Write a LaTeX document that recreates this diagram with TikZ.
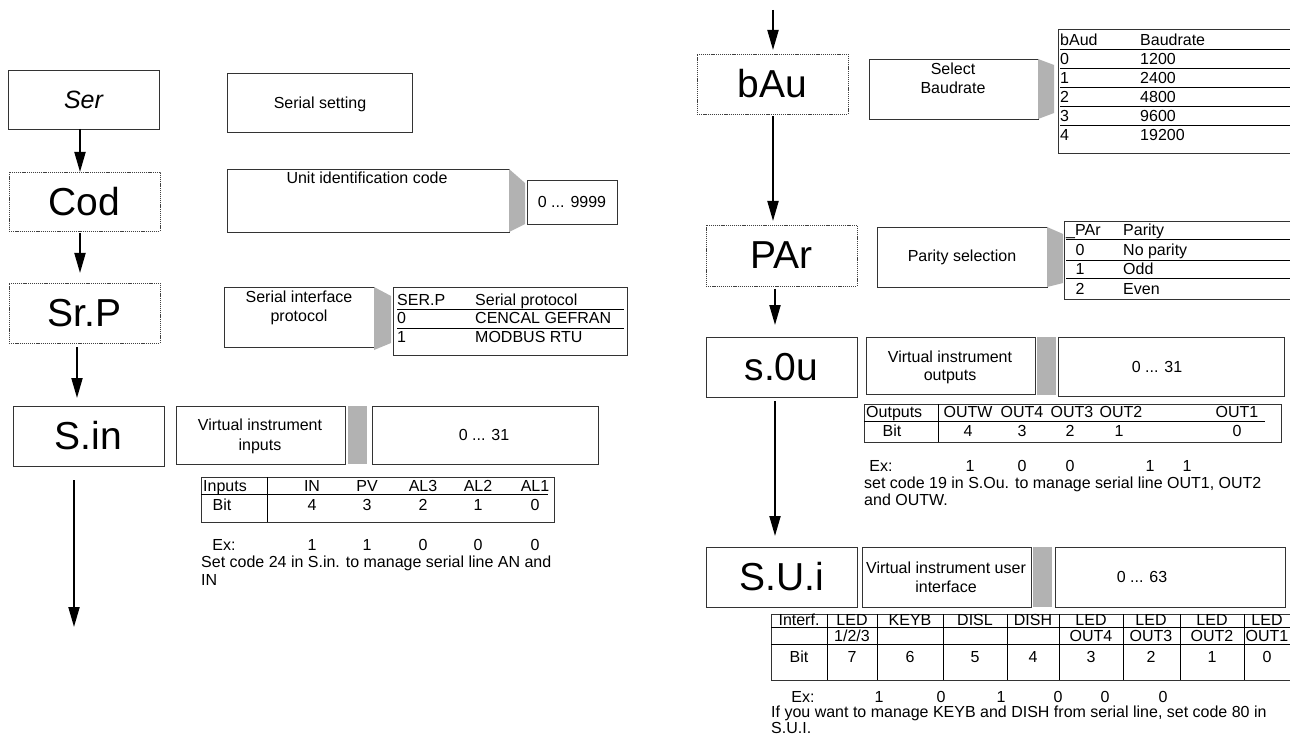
\documentclass[tikz,border=0pt]{standalone}
\usepackage{fontspec}
\setmainfont{Liberation Sans}
\usetikzlibrary{arrows.meta}
\newcounter{tn}
\tikzset{
  bx/.style={draw=black!80, line width=0.9pt, inner sep=0pt, outer sep=0pt},
  dbx/.style={draw=black!75, line width=0.8pt, dash pattern=on 1.2pt off 0.9pt, inner sep=0pt, outer sep=0pt},
  gr/.style={fill=black!30, draw=none, inner sep=0pt, outer sep=0pt},
  tbl/.style={draw=black!80, line width=0.8pt, inner sep=0pt, outer sep=0pt},
  rl/.style={draw=black, line width=0.8pt},
  arr/.style={line width=2pt, -{Triangle[length=20pt,width=11pt]}},
  t/.style={font=\fontsize{16}{19}\selectfont, inner sep=0pt, text height=12pt, text depth=1pt},
  tl/.style={t, anchor=west},
  bigf/.style={font=\fontsize{39}{40}\selectfont},
  serf/.style={font=\fontsize{25}{30}\selectfont\itshape},
}
\newcommand\BX[7]{\node[#1, minimum width={(#5-#3)*1pt}, minimum height={(#6-#4)*1pt}] (#2) at ({(#3+#5)/2},{(#4+#6)/2}) {#7};}
\newcommand\T[3]{\stepcounter{tn}\node[t] (t\thetn) at (#1,#2) {#3};}
\newcommand\TL[3]{\stepcounter{tn}\node[tl] (t\thetn) at (#1,#2) {#3};}
\begin{document}
\begin{tikzpicture}[x=1pt,y=-1pt]
\useasboundingbox (0,0) rectangle (1290,735);
\clip (0,0) rectangle (1290,735);
\fill[white] (0,0) rectangle (1290,735);

% ---------------- left column ----------------
\BX{bx,serf}{ser}{8}{70}{159}{129}{Ser}
\BX{dbx,bigf}{cod}{9}{172}{160}{231}{Cod}
\BX{dbx,bigf}{srp}{9}{283}{160}{343}{Sr.P}
\BX{bx,bigf}{sin}{13}{406}{164}{466}{S.in}

\coordinate (xa) at (80,0);
\coordinate (xb) at (77,0);
\coordinate (xc) at (74,0);
\coordinate (endL) at (74,627);
\draw[arr] (ser.south -| xa) -- (cod.north -| xa);
\draw[arr, shorten <=2pt, shorten >=10pt] (cod.south -| xa) -- (srp.north -| xa);
\draw[arr, shorten <=4pt, shorten >=8pt] (srp.south -| xb) -- (sin.north -| xb);
\draw[arr, shorten <=14pt] (sin.south -| xc) -- (endL);

% Serial setting
\BX{bx}{serset}{227}{73}{412}{132}{}
\T{320}{103}{Serial setting}

% Unit identification code
\BX{bx}{unitid}{227}{169}{509}{232}{}
\T{367}{178}{Unit identification code}
\fill[black!30] (509,169) -- (525,183) -- (525,224) -- (509,232) -- cycle;
\BX{bx}{unitval}{527}{180}{617}{224}{}
\T{572}{202}{0 ... 9999}

% Serial interface protocol
\BX{bx}{sip}{224}{287}{374}{347}{}
\T{299}{297}{Serial interface}
\T{299}{316}{protocol}
\fill[black!30] (374,287) -- (391,296) -- (391,343) -- (374,350) -- cycle;
\BX{tbl}{sertab}{393}{287}{627}{355}{}
\draw[rl] (397,309) -- (624,309);
\draw[rl] (397,328) -- (624,328);
\TL{397}{300}{SER.P}\TL{475}{300}{Serial protocol}
\TL{397}{318}{0}\TL{475}{318}{CENCAL GEFRAN}
\TL{397}{337}{1}\TL{475}{337}{MODBUS RTU}

% Virtual instrument inputs
\BX{bx}{vii}{176}{406}{345}{464}{}
\T{260}{425}{Virtual instrument}
\T{260}{445}{inputs}
\BX{gr}{viig}{348}{406}{367}{464}{}
\BX{bx}{viival}{372}{406}{598}{464}{}
\T{484}{435}{0 ... 31}

\BX{tbl}{intab}{201}{477}{554}{522}{}
\draw[rl] (267,477) -- (267,522);
\draw[rl] (201,494) -- (548,494);
\TL{203}{486}{Inputs}
\T{312}{486}{IN}\T{367}{486}{PV}\T{423}{486}{AL3}\T{478}{486}{AL2}\T{535}{486}{AL1}
\T{222}{505}{Bit}
\T{312}{505}{4}\T{367}{505}{3}\T{423}{505}{2}\T{478}{505}{1}\T{535}{505}{0}
\T{224}{545}{Ex:}
\T{312}{545}{1}\T{367}{545}{1}\T{423}{545}{0}\T{478}{545}{0}\T{535}{545}{0}
\TL{201}{562}{Set code 24 in S.in. to manage serial line AN and}
\TL{201}{580}{IN}

% ---------------- right column ----------------
\BX{dbx,bigf}{bau}{697}{54}{848}{114}{bAu}
\BX{dbx,bigf}{par}{706}{225}{857}{286}{PAr}
\BX{bx,bigf}{sou}{706}{337}{857}{397}{s.0u}
\BX{bx,bigf}{sui}{706}{547}{857}{607}{S.U.i}

\coordinate (startR) at (773,10);
\coordinate (xr) at (773,0);
\coordinate (xs) at (775,0);
\draw[arr, shorten >=4pt] (startR) -- (bau.north -| xr);
\draw[arr, shorten <=2pt, shorten >=4pt] (bau.south -| xr) -- (par.north -| xr);
\draw[arr, shorten <=3pt, shorten >=12pt] (par.south -| xs) -- (sou.north -| xs);
\draw[arr, shorten <=4pt, shorten >=11pt] (sou.south -| xs) -- (sui.north -| xs);

% Select Baudrate
\BX{bx}{selb}{869}{59}{1038}{119}{}
\T{953}{69}{Select}
\T{953}{88}{Baudrate}
\fill[black!30] (1038,59) -- (1054,65) -- (1054,113) -- (1038,119) -- cycle;
\BX{tbl}{btab}{1058}{29}{1300}{153}{}
\foreach \yy in {49,68,87,106,125} {\draw[rl] (1060,\yy) -- (1300,\yy);}
\TL{1060}{40}{bAud}\TL{1140}{40}{Baudrate}
\TL{1060}{59}{0}\TL{1140}{59}{1200}
\TL{1060}{78}{1}\TL{1140}{78}{2400}
\TL{1060}{97}{2}\TL{1140}{97}{4800}
\TL{1060}{116}{3}\TL{1140}{116}{9600}
\TL{1060}{135}{4}\TL{1140}{135}{19200}

% Parity selection
\BX{bx}{pars}{877}{227}{1047}{287}{}
\T{962}{256}{Parity selection}
\fill[black!30] (1047,227) -- (1063,234) -- (1063,283) -- (1047,287) -- cycle;
\BX{tbl}{ptab}{1064}{221}{1300}{299}{}
\foreach \yy in {239,260,278} {\draw[rl] (1066,\yy) -- (1300,\yy);}
\TL{1066}{230}{\_PAr}\TL{1123}{230}{Parity}
\T{1080}{250}{0}\TL{1123}{250}{No parity}
\T{1080}{269}{1}\TL{1123}{269}{Odd}
\T{1080}{289}{2}\TL{1123}{289}{Even}

% Virtual instrument outputs
\BX{bx}{vio}{866}{337}{1035}{394}{}
\T{950}{357}{Virtual instrument}
\T{950}{375}{outputs}
\BX{gr}{viog}{1037}{337}{1056}{395}{}
\BX{bx}{voval}{1058}{337}{1284}{396}{}
\T{1157}{367}{0 ... 31}

\BX{tbl}{otab}{864}{404}{1281}{442}{}
\draw[rl] (938,404) -- (938,442);
\draw[rl] (864,421) -- (1265,421);
\TL{866}{412}{Outputs}
\T{968}{412}{OUTW}\T{1022}{412}{OUT4}\T{1072}{412}{OUT3}\T{1121}{412}{OUT2}\T{1237}{412}{OUT1}
\T{892}{431}{Bit}
\T{968}{431}{4}\T{1022}{431}{3}\T{1070}{431}{2}\T{1119}{431}{1}\T{1237}{431}{0}
\T{881}{466}{Ex:}
\T{970}{466}{1}\T{1022}{466}{0}\T{1070}{466}{0}\T{1150}{466}{1}\T{1187}{466}{1}
\TL{864}{483}{set code 19 in S.Ou. to manage serial line OUT1, OUT2}
\TL{864}{500}{and OUTW.}

% Virtual instrument user interface
\BX{bx}{viui}{862}{547}{1031}{607}{}
\T{946}{568}{Virtual instrument user}
\T{946}{587}{interface}
\BX{gr}{viuig}{1033}{547}{1052}{607}{}
\BX{bx}{uival}{1055}{547}{1285}{607}{}
\T{1142}{577}{0 ... 63}

\BX{tbl}{utab}{771}{614}{1300}{680}{}
\draw[rl] (771,627) -- (1300,627);
\draw[rl] (771,644) -- (1300,644);
\foreach \xx in {827,877,943,1007,1059,1123,1180,1244} {\draw[rl] (\xx,614) -- (\xx,680);}
\T{799}{620}{Interf.}\T{852}{620}{LED}\T{910}{620}{KEYB}\T{975}{620}{DISL}\T{1033}{620}{DISH}
\T{1091}{620}{LED}\T{1151}{620}{LED}\T{1212}{620}{LED}\T{1267}{620}{LED}
\T{852}{636}{1/2/3}\T{1091}{636}{OUT4}\T{1151}{636}{OUT3}\T{1212}{636}{OUT2}\T{1267}{636}{OUT1}
\T{799}{657}{Bit}\T{852}{657}{7}\T{910}{657}{6}\T{975}{657}{5}\T{1033}{657}{4}
\T{1091}{657}{3}\T{1151}{657}{2}\T{1212}{657}{1}\T{1267}{657}{0}
\T{803}{697}{Ex:}
\T{879}{697}{1}\T{941}{697}{0}\T{1001}{697}{1}\T{1058}{697}{0}\T{1105}{697}{0}\T{1163}{697}{0}
\TL{771}{712}{If you want to manage KEYB and DISH from serial line, set code 80 in}
\TL{771}{728}{S.U.I.}
\end{tikzpicture}
\end{document}
